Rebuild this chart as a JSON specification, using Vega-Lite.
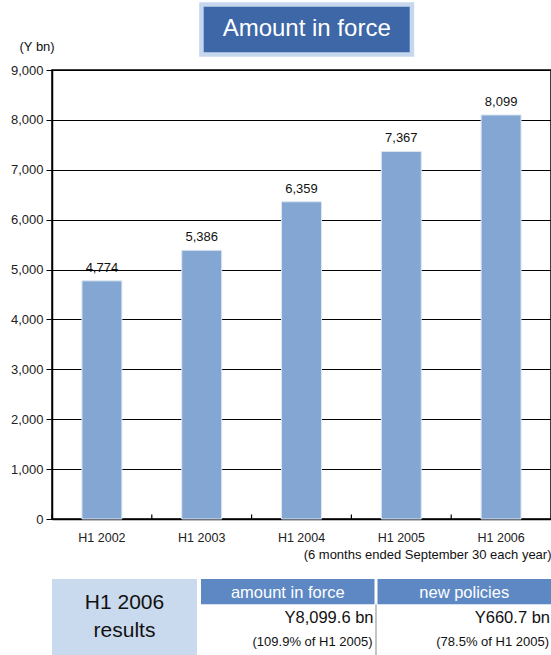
{
  "$schema": "https://vega.github.io/schema/vega-lite/v6.json",
  "padding": {"left": 9, "top": 0, "right": 0, "bottom": 0},
  "bounds": "flush",
  "spacing": 13,
  "config": {
    "font": "Liberation Sans",
    "view": {"stroke": null},
    "text": {"color": "#111"}
  },
  "datasets": {
    "bars": [
      {"period": "H1 2002", "amount": 4774},
      {"period": "H1 2003", "amount": 5386},
      {"period": "H1 2004", "amount": 6359},
      {"period": "H1 2005", "amount": 7367},
      {"period": "H1 2006", "amount": 8099}
    ],
    "title": [{"t": "Amount in force"}],
    "results": [{"cell": "H1 2006\nresults"}],
    "table": [
      {"col": "amount in force", "row": "header", "text": "amount in force"},
      {"col": "amount in force", "row": "value", "text": "Y8,099.6 bn"},
      {"col": "amount in force", "row": "pct", "text": "(109.9% of H1 2005)"},
      {"col": "new policies", "row": "header", "text": "new policies"},
      {"col": "new policies", "row": "value", "text": "Y660.7 bn"},
      {"col": "new policies", "row": "pct", "text": "(78.5% of H1 2005)"}
    ]
  },
  "vconcat": [
    {
      "width": 499,
      "height": 57,
      "data": {"name": "title"},
      "encoding": {
        "x": {"field": "t", "type": "nominal", "scale": {"paddingInner": 0, "paddingOuter": 0.6853, "align": 0.518}, "axis": null},
        "y": {"field": "t", "type": "nominal", "scale": {"paddingInner": 0, "paddingOuter": 0.07, "align": 0.643}, "axis": null}
      },
      "layer": [
        {"mark": {"type": "rect", "fill": "#3d67a7", "stroke": "#c7d7ed", "strokeWidth": 4.5}},
        {"mark": {"type": "text", "color": "white", "fontSize": 24, "baseline": "middle", "dy": -1}, "encoding": {"text": {"field": "t"}}}
      ]
    },
    {
      "width": 499,
      "height": 449,
      "view": {"stroke": "black", "strokeWidth": 1.5},
      "data": {"name": "bars"},
      "encoding": {
        "x": {
          "field": "period", "type": "nominal", "sort": null,
          "scale": {"paddingInner": 0.6, "paddingOuter": 0.3},
          "axis": {
            "labelAngle": 0, "labelFontSize": 12.5, "labelColor": "#222", "labelPadding": 12,
            "ticks": false, "tickSize": 0, "domainColor": "black", "domainWidth": 1.5,
            "title": "(6 months ended September 30 each year)", "titleAnchor": "end",
            "titleFontWeight": "normal", "titleFontSize": 13, "titleColor": "#111", "titlePadding": 5
          }
        }
      },
      "layer": [
        {
          "mark": {"type": "bar", "color": "#84a6d3", "stroke": "#dce5f2", "strokeWidth": 1},
          "encoding": {
            "y": {
              "field": "amount", "type": "quantitative",
              "scale": {"domain": [0, 9000], "nice": false},
              "axis": {
                "values": [0, 1000, 2000, 3000, 4000, 5000, 6000, 7000, 8000, 9000],
                "format": ",.0f", "labelFontSize": 13, "labelColor": "#222", "labelPadding": 3,
                "tickSize": 6, "tickColor": "black", "domainColor": "black", "domainWidth": 1.5,
                "grid": true, "gridColor": "black", "gridWidth": 1, "gridOpacity": 1,
                "title": "(Y bn)", "titleAngle": 0, "titleAlign": "left", "titleBaseline": "middle",
                "titleX": -33, "titleY": -24, "titleFontWeight": "normal", "titleFontSize": 13, "titleColor": "#111"
              }
            }
          }
        },
        {
          "mark": {"type": "text", "baseline": "alphabetic", "dy": -9, "fontSize": 13},
          "encoding": {
            "y": {"field": "amount", "type": "quantitative"},
            "text": {"field": "amount", "type": "quantitative", "format": ","}
          }
        },
        {
          "mark": {"type": "rule", "color": "black", "strokeWidth": 1.2},
          "encoding": {
            "x": {"field": "period", "type": "nominal", "sort": null, "bandPosition": -0.75},
            "y": {"datum": 0, "type": "quantitative"},
            "y2": {"datum": 90}
          }
        }
      ]
    },
    {
      "width": 499,
      "height": 123,
      "layer": [
        {
          "data": {"name": "results"},
          "encoding": {
            "x": {"field": "cell", "type": "nominal", "scale": {"domain": ["H1 2006\nresults", "amount in force", "new policies"], "paddingInner": 0, "paddingOuter": 0.2207, "align": 0}, "axis": null},
            "y": {"field": "cell", "type": "nominal", "scale": {"paddingInner": 0, "paddingOuter": 0.309, "align": 1}, "axis": null}
          },
          "layer": [
            {"mark": {"type": "rect", "fill": "#c9d9ee"}},
            {"mark": {"type": "text", "fontSize": 21, "lineBreak": "\n", "lineHeight": 28, "baseline": "middle", "dy": -14}, "encoding": {"text": {"field": "cell"}}}
          ]
        },
        {
          "data": {"name": "table"},
          "encoding": {
            "x": {"field": "col", "type": "nominal", "sort": null, "scale": {"domain": ["amount in force", "new policies"], "paddingInner": 0.017, "paddingOuter": 0.4221, "align": 1}, "axis": null},
            "y": {"field": "row", "type": "nominal", "sort": null, "scale": {"domain": ["header", "value", "pct"], "paddingInner": 0, "paddingOuter": 0.9276, "align": 1}, "axis": null}
          },
          "layer": [
            {"transform": [{"filter": "datum.row === 'header'"}], "mark": {"type": "rect", "fill": "#5d88c4"}},
            {
              "transform": [{"filter": "datum.row === 'value'"}],
              "mark": {"type": "rule", "color": "#b0b0b0", "strokeWidth": 1.5, "xOffset": 1.5},
              "encoding": {
                "x": {"field": "col", "type": "nominal", "sort": null, "bandPosition": 1},
                "y": {"field": "row", "type": "nominal", "sort": null, "bandPosition": 0},
                "y2": {"value": "height"}
              }
            },
            {"transform": [{"filter": "datum.row === 'header'"}], "mark": {"type": "text", "color": "white", "fontSize": 16.5, "baseline": "middle", "dy": 1}, "encoding": {"text": {"field": "text"}}},
            {
              "transform": [{"filter": "datum.row === 'value'"}],
              "mark": {"type": "text", "align": "right", "dx": -1, "fontSize": 16.5, "baseline": "middle", "dy": 1},
              "encoding": {"x": {"field": "col", "type": "nominal", "sort": null, "bandPosition": 1}, "text": {"field": "text"}}
            },
            {
              "transform": [{"filter": "datum.row === 'pct'"}],
              "mark": {"type": "text", "align": "right", "dx": -2, "fontSize": 13, "baseline": "middle"},
              "encoding": {"x": {"field": "col", "type": "nominal", "sort": null, "bandPosition": 1}, "text": {"field": "text"}}
            }
          ]
        }
      ],
      "resolve": {"scale": {"x": "independent", "y": "independent"}}
    }
  ]
}
